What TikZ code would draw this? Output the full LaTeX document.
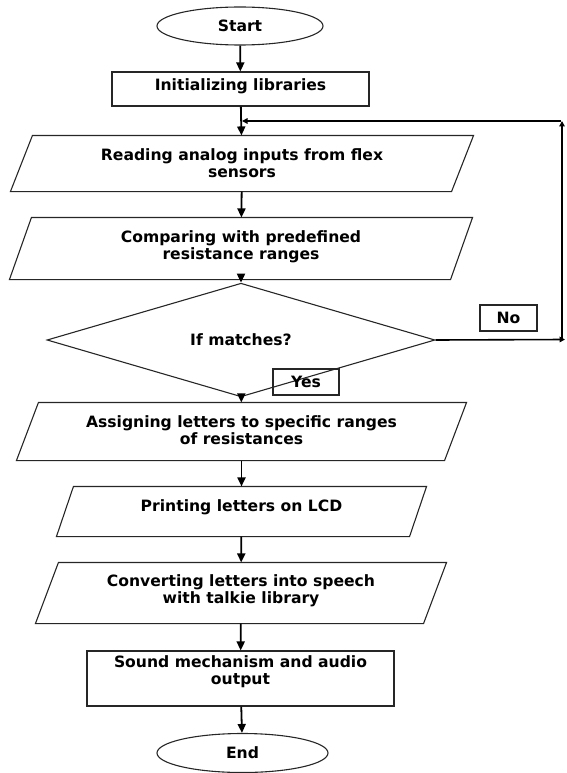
\documentclass[tikz,border=0pt]{standalone}
\usepackage{fontspec}
\setmainfont{DejaVu Sans}
\usetikzlibrary{shapes.geometric,arrows.meta}
\tikzset{
  base/.style={draw=black!85, line width=1.1pt, inner sep=0pt, align=center,
    font=\bfseries\fontsize{15.6}{17}\selectfont},
  term/.style={base, ellipse},
  procbox/.style={base, rectangle},
  iobox/.style={base, rectangle, draw=none},
  paraline/.style={draw=black!85, line width=1.1pt},
  decbox/.style={base, diamond},
  lblbox/.style={base, rectangle},
  txt/.style={inner sep=0pt, align=center, font=\bfseries\fontsize{15.6}{17}\selectfont},
  flow/.style={line width=1.8pt, -{Triangle[length=9pt,width=8pt]}},
  back/.style={line width=1.6pt, -{Triangle[length=5.5pt,width=5.5pt]}}
}
\newcommand{\drawpara}[2]{%
  \draw[paraline] ([xshift=#2]#1.north west) -- ([xshift=#2]#1.north east)
    -- ([xshift=-#2]#1.south east) -- ([xshift=-#2]#1.south west) -- cycle;}
\begin{document}
\begin{tikzpicture}[x=1pt,y=-1pt]
\useasboundingbox (0,0) rectangle (567,773);
\node[term, minimum width=166, minimum height=38] (start) at (240,26) {Start};
\node[procbox, minimum width=257, minimum height=34] (init) at (240.5,89) {};
\node[txt] (initt) at (240.5,86.5) {Initializing libraries};
\node[iobox, minimum width=440, minimum height=55] (read) at (242,163.5) {};
\node[txt] (readt) at (242,163.5) {Reading analog inputs from flex\\sensors};
\node[iobox, minimum width=440, minimum height=61] (comp) at (241,248.5) {};
\node[txt] (compt) at (241,246.5) {Comparing with predefined\\resistance ranges};
\node[decbox, minimum width=388, minimum height=66] (dec) at (241,340) {If matches?};
\node[lblbox, minimum width=57, minimum height=26] (no) at (508.5,318) {No};
\node[lblbox, minimum width=66, minimum height=26] (yes) at (306,382) {Yes};
\node[iobox, minimum width=427, minimum height=57] (assign) at (241.5,431.5) {};
\node[txt] (assignt) at (241.5,430.5) {Assigning letters to specific ranges\\of resistances};
\node[iobox, minimum width=352, minimum height=49] (print) at (241.5,511.5) {};
\node[txt] (printt) at (241.5,507) {Printing letters on LCD};
\node[iobox, minimum width=387, minimum height=60] (conv) at (241,593) {};
\node[txt] (convt) at (241,591) {Converting letters into speech\\with talkie library};
\node[procbox, minimum width=307, minimum height=55] (sound) at (240.5,678.5) {};
\node[txt] (soundt) at (240.5,672) {Sound mechanism and audio\\output};
\node[term, minimum width=171, minimum height=39] (end) at (242.5,753) {End};

\drawpara{read}{11pt}
\drawpara{comp}{11pt}
\drawpara{assign}{11pt}
\drawpara{print}{8.5pt}
\drawpara{conv}{11.5pt}

\coordinate (c1) at (562,339.5);
\coordinate (c2) at (562,121);
\coordinate (j) at (242,121);

\draw[flow] (start) -- (init);
\draw[flow] (init) -- (read);
\draw[flow] (read) -- (comp);
\draw[flow] (comp) -- (dec);
\draw[flow] (dec) -- (assign);
\draw[flow] (assign) -- (print);
\draw[flow] (print) -- (conv);
\draw[flow] (conv) -- (sound);
\draw[flow] (sound) -- (end);
\draw[back] (dec.east) -- ([xshift=3pt]c1);
\draw[back] (c1) -- (c2);
\draw[back] ([xshift=-0.8pt]c2) -- (j);
\end{tikzpicture}
\end{document}
